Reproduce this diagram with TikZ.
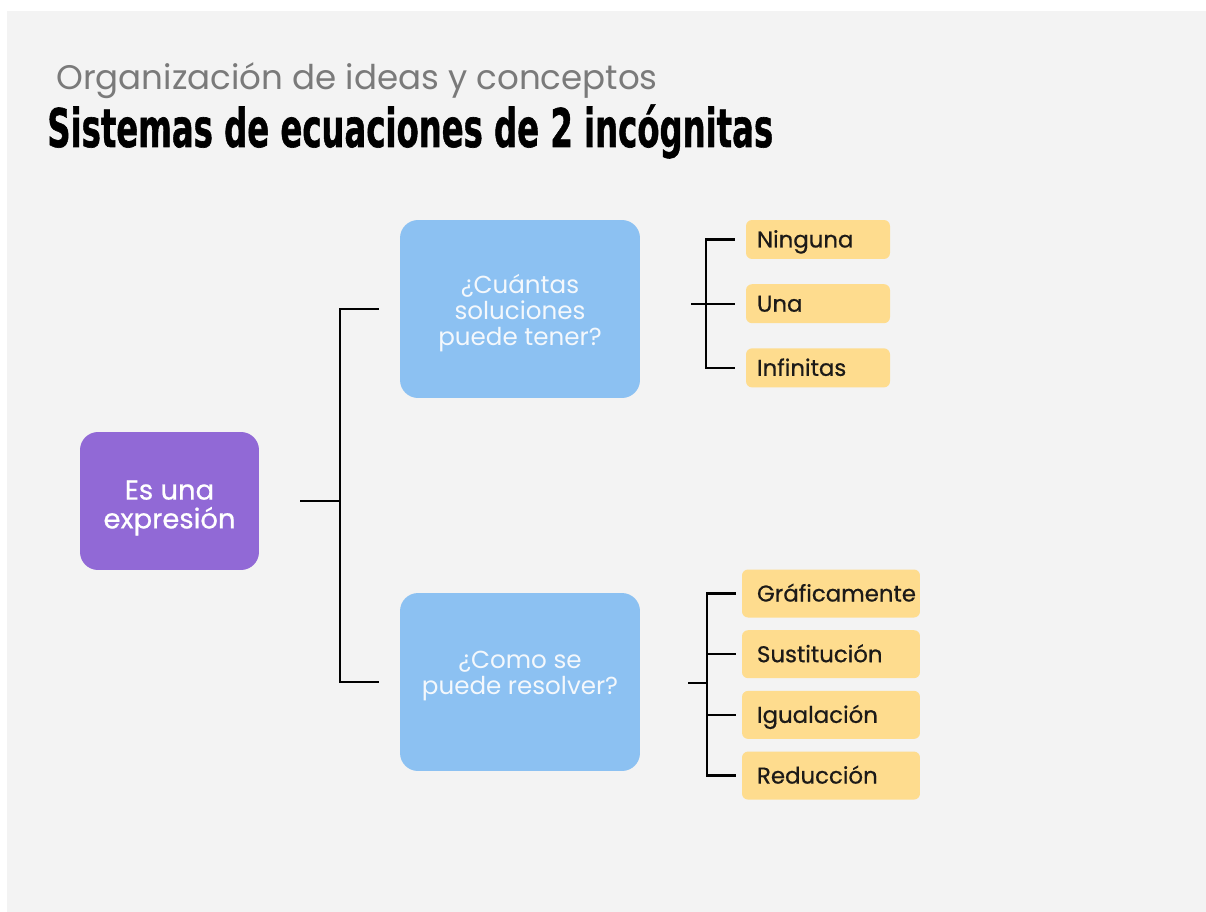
\documentclass[tikz,border=0pt]{standalone}
\usepackage{fontspec}
\usepackage{graphicx}
\setmainfont{Poppins}
\newfontfamily\titlefont{DejaVu Sans}[FakeBold=1.2]
\newfontfamily\mediumfont{Poppins}[FakeBold=0.6]
\usetikzlibrary{positioning}

\definecolor{pagebg}{HTML}{F3F3F3}
\definecolor{subgray}{HTML}{7A7A7A}
\definecolor{exprpurple}{HTML}{9169D6}
\definecolor{askblue}{HTML}{8CC1F2}
\definecolor{asktext}{HTML}{F4F8FC}
\definecolor{leafyellow}{HTML}{FEDC8E}
\definecolor{leaftext}{HTML}{1C1A18}

\begin{document}
\begin{tikzpicture}[x=0.02cm, y=-0.02cm,
  link/.style={draw=black, line width=1.35pt},
  mainbox/.style={rectangle, rounded corners=0.36cm, inner sep=0pt},
  boxtext/.style={align=center, inner sep=0pt},
  leaf/.style={rectangle, rounded corners=0.12cm, fill=leafyellow, text=leaftext, align=left, inner ysep=0pt, text height=9.5pt, text depth=0.4pt, font=\mediumfont\fontsize{13}{15}\selectfont},
  topleaf/.style={leaf, text width=2.44cm, inner xsep=0.22cm, minimum height=0.78cm},
  lowleaf/.style={leaf, text width=2.96cm, inner xsep=0.3cm, minimum height=0.96cm}]

% page
\fill[white] (0,0) rectangle (1206,912);
\fill[pagebg] (7,11) rectangle (1206,912);
\useasboundingbox (0,0) rectangle (1206,912);

% headings
\node[anchor=base west, inner sep=0pt, text=subgray, font=\fontsize{19.4}{22}\selectfont] (subtitle) at (56,90) {Organización de ideas y conceptos};
\node[anchor=base west, inner sep=0pt] (title) at (47,147) {\resizebox{14.52cm}{\height}{\titlefont\bfseries\fontsize{30.3}{32}\selectfont Sistemas de ecuaciones de 2 incógnitas}};

% main boxes
\node[mainbox, fill=exprpurple, minimum width=3.58cm, minimum height=2.76cm,
  label={[boxtext, text=white, yshift=-0.14cm, font=\mediumfont\fontsize{15.6}{16.4}\selectfont]center:Es una\\expresión}] (expr) at (169.5,501) {};
\node[mainbox, fill=askblue, minimum width=4.8cm, minimum height=3.56cm,
  label={[boxtext, text=asktext, yshift=-0.08cm, font=\fontsize{14}{14.8}\selectfont]center:¿Cuántas\\soluciones\\puede tener?}] (q1) at (520,309) {};
\node[mainbox, fill=askblue, minimum width=4.8cm, minimum height=3.56cm,
  label={[boxtext, text=asktext, yshift=0.11cm, font=\fontsize{14}{14.8}\selectfont]center:¿Como se\\puede resolver?}] (q2) at (520,682) {};

% answers
\node[topleaf] (ninguna) at (818,239.5) {Ninguna};
\node[topleaf, below=0.49cm of ninguna] (una) {Una};
\node[topleaf, below=0.49cm of una] (infinitas) {Infinitas};

\node[lowleaf] (graf) at (831,593.5) {Gráficamente};
\node[lowleaf, below=0.24cm of graf] (sust) {Sustitución};
\node[lowleaf, below=0.24cm of sust] (igual) {Igualación};
\node[lowleaf, below=0.24cm of igual] (reduc) {Reducción};

% brackets
\coordinate (split) at (340,501);
\draw[link, shorten <=0.82cm] (expr.east) -- (split);
\draw[link, shorten >=0.42cm] (split) |- (q1.west);
\draw[link, shorten >=0.42cm] (split) |- (q2.west);

\coordinate (hub1) at (706,303.5);
\draw[link, shorten <=1.02cm, shorten >=0.22cm] (q1.east |- una.west) -- (una.west);
\draw[link, shorten >=0.22cm] (hub1) |- (ninguna.west);
\draw[link, shorten >=0.22cm] (hub1) |- (infinitas.west);

\coordinate (hub2) at (707,683);
\draw[link, shorten <=0.96cm] (q2.east |- hub2) -- (hub2);
\foreach \leafname in {graf,sust,igual,reduc}
  \draw[link, shorten >=0.12cm] (hub2) |- (\leafname.west);
\end{tikzpicture}
\end{document}
